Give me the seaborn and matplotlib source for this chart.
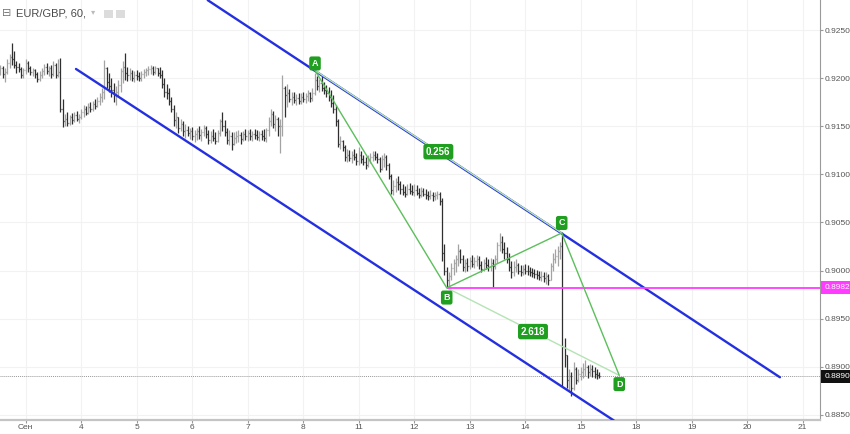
"""
EUR/GBP hourly bars (Sep 2017) with a falling channel and an ABCD pattern.
"""

import numpy as np
import matplotlib
matplotlib.use('Agg')
import matplotlib.pyplot as plt
from matplotlib.patches import FancyBboxPatch
import seaborn as sns

# --- data -----------------------------------------------------------------
# hourly bars in pips (price * 10000); first bar is Aug 31, 13:00
first_hour = -11
first_open = 9208

bar_high = [
    9214, 9213, 9210, 9220, 9225, 9236, 9228, 9218, 9216, 9212, 9211,  # Aug 31
    9220, 9218, 9213, 9210, 9209, 9206, 9207, 9210, 9215, 9216, 9213, 9214,
    9218, 9216, 9220, 9221, 9178, 9163, 9165, 9162, 9164, 9165, 9166, 9163,  # Sep 1
    9168, 9172, 9171, 9174, 9175, 9176, 9178, 9180, 9184, 9190, 9219, 9212,
    9205, 9200, 9195, 9192, 9198, 9210, 9218, 9226, 9212, 9210, 9208, 9207,  # Sep 4
    9208, 9206, 9207, 9209, 9211, 9213, 9214, 9213, 9213, 9211, 9212, 9208,
    9200, 9194, 9190, 9180, 9172, 9165, 9160, 9158, 9155, 9152, 9150, 9148,  # Sep 5
    9149, 9146, 9148, 9150, 9147, 9151, 9150, 9146, 9145, 9147, 9144, 9146,
    9158, 9165, 9156, 9148, 9146, 9144, 9144, 9145, 9146, 9144, 9145, 9147,  # Sep 6
    9146, 9147, 9145, 9147, 9146, 9145, 9146, 9147, 9148, 9160, 9168, 9166,
    9162, 9160, 9158, 9203, 9192, 9194, 9189, 9186, 9186, 9183, 9184, 9185,  # Sep 7
    9186, 9185, 9188, 9186, 9190, 9205, 9202, 9199, 9202, 9196, 9193, 9191,
    9188, 9182, 9172, 9158, 9140, 9136, 9130, 9126, 9125, 9124, 9126, 9122,  # Sep 8
    9128, 9124, 9120, 9118, 9120, 9122, 9124, 9124, 9122, 9118, 9120, 9122,
    9120, 9112, 9100, 9094, 9096, 9098, 9093, 9090, 9088, 9090, 9091, 9089,  # Sep 11
    9090, 9089, 9086, 9087, 9086, 9085, 9083, 9084, 9082, 9082, 9083, 9082,
    9075, 9028, 9004, 8998, 9008, 9012, 9016, 9028, 9022, 9016, 9012, 9013,  # Sep 12
    9014, 9016, 9014, 9016, 9015, 9010, 9012, 9014, 9012, 9013, 9012, 9016,
    9030, 9039, 9036, 9030, 9024, 9018, 9010, 9010, 9012, 9008, 9006, 9006,  # Sep 13
    9007, 9006, 9004, 9003, 9002, 9001, 9000, 8999, 8998, 8998, 8996, 9008,
    9018, 9022, 9025, 9030, 9040, 8930, 8912, 8898, 8895, 8905, 8900, 8898,  # Sep 14
    8900, 8904, 8907, 8902, 8903, 8902, 8900, 8898, 8895,  # Sep 15
]
bar_low = [
    9203, 9200, 9196, 9204, 9210, 9214, 9210, 9205, 9206, 9200, 9200,
    9204, 9206, 9203, 9202, 9200, 9196, 9197, 9200, 9203, 9204, 9202, 9200,
    9202, 9200, 9201, 9165, 9149, 9150, 9150, 9151, 9152, 9154, 9155, 9153,
    9158, 9160, 9162, 9163, 9165, 9166, 9168, 9170, 9172, 9175, 9178, 9190,
    9186, 9180, 9175, 9172, 9180, 9186, 9195, 9198, 9197, 9198, 9197, 9196,
    9198, 9197, 9197, 9200, 9202, 9203, 9204, 9203, 9204, 9202, 9200, 9190,
    9180, 9178, 9172, 9165, 9150, 9148, 9143, 9145, 9140, 9138, 9140, 9137,
    9136, 9134, 9136, 9137, 9135, 9140, 9138, 9132, 9133, 9135, 9132, 9134,
    9140, 9145, 9140, 9132, 9130, 9125, 9130, 9133, 9134, 9132, 9135, 9136,
    9135, 9136, 9135, 9137, 9136, 9135, 9136, 9135, 9134, 9140, 9150, 9148,
    9145, 9140, 9122, 9140, 9160, 9170, 9175, 9172, 9174, 9172, 9173, 9173,
    9175, 9174, 9176, 9175, 9176, 9182, 9188, 9186, 9187, 9183, 9180, 9176,
    9170, 9164, 9150, 9128, 9126, 9124, 9114, 9113, 9114, 9112, 9115, 9110,
    9110, 9112, 9110, 9106, 9108, 9112, 9114, 9115, 9112, 9102, 9104, 9108,
    9104, 9095, 9080, 9078, 9082, 9084, 9080, 9078, 9076, 9078, 9080, 9078,
    9077, 9078, 9075, 9076, 9077, 9074, 9073, 9074, 9072, 9073, 9074, 9068,
    9010, 8995, 8982, 8984, 8990, 8995, 8998, 9005, 9008, 9000, 8998, 9000,
    9002, 9004, 9003, 9005, 9002, 8998, 9000, 9002, 8999, 9000, 8983, 9002,
    9008, 9020, 9018, 9012, 9008, 9000, 8992, 8994, 8998, 8996, 8994, 8995,
    8996, 8995, 8994, 8993, 8992, 8991, 8990, 8989, 8988, 8986, 8985, 8990,
    9000, 9008, 9005, 9012, 8880, 8900, 8878, 8875, 8870, 8876, 8882, 8884,
    8886, 8888, 8890, 8888, 8890, 8889, 8888, 8887, 8888,
]
bar_close = [
    9210, 9204, 9206, 9216, 9222, 9220, 9214, 9212, 9209, 9203, 9208,
    9216, 9210, 9206, 9208, 9204, 9199, 9203, 9207, 9212, 9207, 9210, 9204,
    9214, 9203, 9206, 9168, 9155, 9158, 9153, 9160, 9156, 9162, 9158, 9160,
    9165, 9168, 9164, 9170, 9168, 9173, 9171, 9176, 9180, 9186, 9210, 9196,
    9192, 9188, 9182, 9186, 9193, 9207, 9212, 9205, 9203, 9205, 9200, 9203,
    9202, 9200, 9204, 9206, 9208, 9209, 9211, 9206, 9210, 9205, 9203, 9194,
    9186, 9184, 9176, 9168, 9156, 9160, 9148, 9152, 9145, 9146, 9143, 9145,
    9140, 9142, 9145, 9141, 9144, 9148, 9142, 9136, 9140, 9138, 9135, 9143,
    9155, 9150, 9144, 9136, 9140, 9132, 9138, 9140, 9141, 9137, 9142, 9140,
    9143, 9140, 9142, 9141, 9139, 9142, 9140, 9138, 9146, 9155, 9163, 9152,
    9158, 9150, 9150, 9190, 9182, 9185, 9178, 9180, 9177, 9179, 9176, 9180,
    9178, 9181, 9184, 9179, 9185, 9198, 9192, 9195, 9190, 9188, 9184, 9180,
    9174, 9168, 9155, 9132, 9135, 9128, 9118, 9120, 9117, 9120, 9118, 9114,
    9120, 9116, 9113, 9110, 9116, 9118, 9120, 9118, 9116, 9106, 9116, 9118,
    9110, 9098, 9084, 9088, 9092, 9090, 9085, 9082, 9080, 9085, 9083, 9082,
    9084, 9081, 9079, 9083, 9080, 9078, 9077, 9079, 9077, 9078, 9080, 9072,
    9018, 9000, 8990, 8994, 9003, 9008, 9012, 9020, 9012, 9004, 9008, 9005,
    9010, 9007, 9010, 9012, 9006, 9002, 9008, 9006, 9004, 9008, 9005, 9012,
    9026, 9030, 9022, 9018, 9012, 9004, 8998, 9004, 9006, 9000, 8998, 9002,
    9000, 8999, 8998, 8997, 8996, 8995, 8993, 8994, 8992, 8994, 8990, 9005,
    9012, 9015, 9020, 9025, 8920, 8912, 8886, 8890, 8878, 8898, 8886, 8892,
    8895, 8898, 8900, 8894, 8898, 8896, 8892, 8891, 8890,
]

# trading-day axis (weekends skipped)
day_labels = ['Сен', '4', '5', '6', '7', '8', '11', '12', '13', '14',
              '15', '18', '19', '20', '21']
price_ticks = [0.8850, 0.8900, 0.8950, 0.9000, 0.9050, 0.9100, 0.9150,
               0.9200, 0.9250]

# channel lines (day, price)
upper_day = [3.28, 13.59]
upper_price = [0.9281, 0.8889]
lower_day = [0.906, 10.6]
lower_price = [0.92095, 0.8844]

# ABCD pattern
abcd_names = ['A', 'B', 'C', 'D']
abcd_day = [5.213, 7.586, 9.658, 10.695]
abcd_price = [0.9208, 0.8982, 0.9039, 0.8891]
ratio_labels = ['0.256', '2.618']

level_price = 0.8982
last_price = 0.8890

# --- style ----------------------------------------------------------------
sns.set_style('white')
plt.rcParams['font.family'] = ['Liberation Sans', 'DejaVu Sans']

BLUE = '#2430e0'
GREEN_BOX = '#1f9e1f'
GREEN_LINE = '#5cbf5c'
GREEN_FAINT = '#b4e3b4'
PINK = '#ff3cff'
TEXT = '#555555'

W, H = 850, 434
fig = plt.figure(figsize=(W / 100, H / 100), dpi=100)
ax = fig.add_axes([0, 14 / H, 820 / W, 420 / H])

# --- bars -----------------------------------------------------------------
high = np.array(bar_high) / 10000
low = np.array(bar_low) / 10000
close = np.array(bar_close) / 10000
open_ = np.concatenate([[first_open / 10000], close[:-1]])
t = (np.arange(len(high)) + first_hour) / 24
colors = np.where(close >= open_, '#a3a3a3', '#2f2f2f')

tick_w = 0.018
ax.vlines(t, low, high, colors=colors, lw=0.9, zorder=2)
ax.hlines(open_, t - tick_w, t, colors=colors, lw=0.9, zorder=2)
ax.hlines(close, t, t + tick_w, colors=colors, lw=0.9, zorder=2)

# --- drawings -------------------------------------------------------------
sns.lineplot(x=upper_day, y=upper_price, ax=ax, color=BLUE, lw=1.7,
             sort=False, estimator=None, zorder=3)
sns.lineplot(x=lower_day, y=lower_price, ax=ax, color=BLUE, lw=1.7,
             sort=False, estimator=None, zorder=3)

# faint ratio legs A-C and B-D
for i, j in [(0, 2), (1, 3)]:
    sns.lineplot(x=[abcd_day[i], abcd_day[j]], y=[abcd_price[i], abcd_price[j]],
                 ax=ax, color=GREEN_FAINT, lw=1.0, sort=False, estimator=None,
                 zorder=3)
sns.lineplot(x=abcd_day, y=abcd_price, ax=ax, color=GREEN_LINE, lw=1.0,
             sort=False, estimator=None, zorder=4)

xmin, xmax = -0.463, 14.312
ax.hlines(level_price, abcd_day[1], xmax, color=PINK, lw=1.3, zorder=3)
ax.axhline(last_price, color='#999999', lw=0.7, ls=(0, (1, 1)), zorder=1)

box = dict(boxstyle='round,pad=0.28,rounding_size=0.25', fc=GREEN_BOX, ec='none')
offsets = [5.0, -7.0, 7.2, -6.3]
for name, d, p, off in zip(abcd_names, abcd_day, abcd_price, offsets):
    ax.annotate(name, xy=(d, p), xytext=(0, off), textcoords='offset points',
                ha='center', va='center', fontsize=6.5, color='white',
                fontweight='bold', bbox=box, zorder=6)

for k, (i, j) in enumerate([(0, 2), (1, 3)]):
    mx = (abcd_day[i] + abcd_day[j]) / 2
    my = (abcd_price[i] + abcd_price[j]) / 2
    ax.annotate(ratio_labels[k], xy=(mx, my), ha='center', va='center',
                fontsize=7, color='white', fontweight='bold', bbox=box,
                zorder=6)

# --- axes -----------------------------------------------------------------
ax.set_xlim(xmin, xmax)
ax.set_ylim(0.88446, 0.928119)
ax.set_xticks(range(len(day_labels)))
ax.set_xticklabels(day_labels)
ax.set_yticks(price_ticks)
ax.set_yticklabels([f'{p:.4f}' for p in price_ticks])
ax.yaxis.tick_right()
ax.grid(True, color='#f2f2f2', lw=0.8, zorder=0)
ax.set_axisbelow(True)

ax.tick_params(axis='x', bottom=True, length=2, width=0.8, color='#999999',
               labelsize=6, labelcolor=TEXT, pad=0.8)
ax.tick_params(axis='y', right=True, left=False, length=2, width=0.8,
               color='#999999', labelsize=6, labelcolor=TEXT, pad=1.2)

for side in ['top', 'left']:
    ax.spines[side].set_visible(False)
ax.spines['right'].set_color('#9a9a9a')
ax.spines['right'].set_linewidth(0.8)
ax.spines['bottom'].set_color('#c4c4c4')
ax.spines['bottom'].set_linewidth(1.6)

# price badges on the scale
for price, fc in [(level_price, PINK), (last_price, '#111111')]:
    ax.annotate(f'{price:.4f}', xy=(1, price), xycoords=ax.get_yaxis_transform(),
                xytext=(3, 0), textcoords='offset points', ha='left',
                va='center', fontsize=6, color='white',
                bbox=dict(boxstyle='square,pad=0.35', fc=fc, ec='none'),
                annotation_clip=False, zorder=7)

# --- header ---------------------------------------------------------------
def fx(px):
    return px / W


def fy(py):
    return 1 - py / H


fig.text(fx(2), fy(13), '⊟', fontsize=8, color='#777777', va='center',
         family=['DejaVu Sans'])
fig.text(fx(16), fy(13), 'EUR/GBP, 60,', fontsize=8, color='#4a4a4a',
         va='center')
fig.text(fx(91), fy(12), '▾', fontsize=6, color='#bbbbbb', va='center',
         family=['DejaVu Sans'])
for x0 in [104, 116]:
    fig.patches.append(FancyBboxPatch((fx(x0), fy(18)), fx(9), 8 / H,
                                      boxstyle='square,pad=0',
                                      transform=fig.transFigure,
                                      fc='#dcdcdc', ec='none'))

fig.savefig('out.png', dpi=100)
print("Saved out.png")
